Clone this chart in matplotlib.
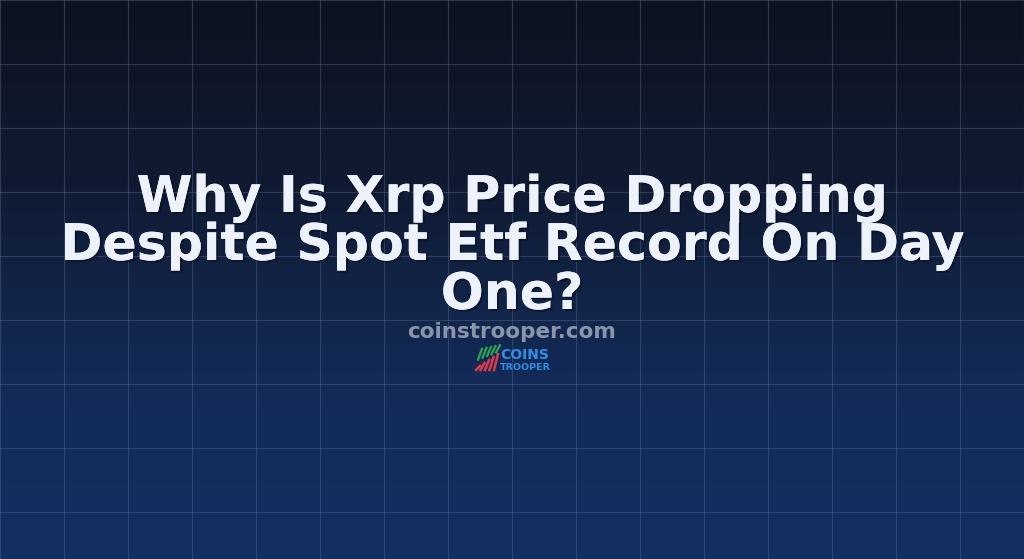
import numpy as np
import matplotlib.pyplot as plt
import matplotlib.patheffects as pe
from matplotlib.colors import LinearSegmentedColormap

# Card contents
title_lines = ["Why Is Xrp Price Dropping", "Despite Spot Etf Record On Day", "One?"]
site_name = "coinstrooper.com"
logo_top = "COINS"
logo_bottom = "TROOPER"
logo_bar_heights = [4, 7, 10, 13, 16]

W, H = 1024, 559
grid_step = 64

fig = plt.figure(figsize=(W / 100, H / 100), dpi=100)
ax = fig.add_axes([0, 0, 1, 1])
ax.set_xlim(0, W)
ax.set_ylim(H, 0)
ax.axis("off")

# vertical background gradient
cmap = LinearSegmentedColormap.from_list("bg", ["#0d121f", "#101b33", "#132a56", "#142f62"])
grad = np.linspace(0, 1, 256).reshape(-1, 1)
ax.imshow(grad, cmap=cmap, extent=[0, W, H, 0], aspect="auto", zorder=0)

# grid
for gx in range(0, W + 1, grid_step):
    ax.axvline(gx, color="#5a6a8c", lw=0.8, alpha=0.42, zorder=1)
for gy in range(0, H + 1, grid_step):
    ax.axhline(gy, color="#5a6a8c", lw=0.8, alpha=0.42, zorder=1)

shadow = [pe.withSimplePatchShadow(offset=(1.5, -1.5), shadow_rgbFace="#050810", alpha=0.4), pe.Normal()]

line_y = [198, 246, 295]
for txt, y in zip(title_lines, line_y):
    ax.text(W / 2, y, txt, ha="center", va="center", fontsize=36.4, fontweight="bold",
            color="#eef2fb", family="DejaVu Sans", path_effects=shadow, zorder=3)

ax.text(W / 2, 332, site_name, ha="center", va="center", fontsize=15.5, fontweight="bold",
        color="#8a94aa", family="DejaVu Sans", zorder=3)

# small logo
bx = 476
for i, h in enumerate(logo_bar_heights):
    ax.plot([bx + i * 4.5, bx + i * 4.5 + 4], [370, 370 - h], color="#e23a4a", lw=1.8, zorder=3)
    ax.plot([bx + i * 4.5 + 2, bx + i * 4.5 + 6], [362 - h * 0.6, 350 - h * 0.3], color="#2aa84f", lw=1.6, zorder=3)
ax.text(500, 355, logo_top, ha="left", va="center", fontsize=10, fontweight="bold",
        color="#2f8fe8", family="DejaVu Sans", zorder=3)
ax.text(500, 367, logo_bottom, ha="left", va="center", fontsize=6.8, fontweight="bold",
        color="#2f8fe8", family="DejaVu Sans", zorder=3)

fig.savefig("out.png", dpi=100)
